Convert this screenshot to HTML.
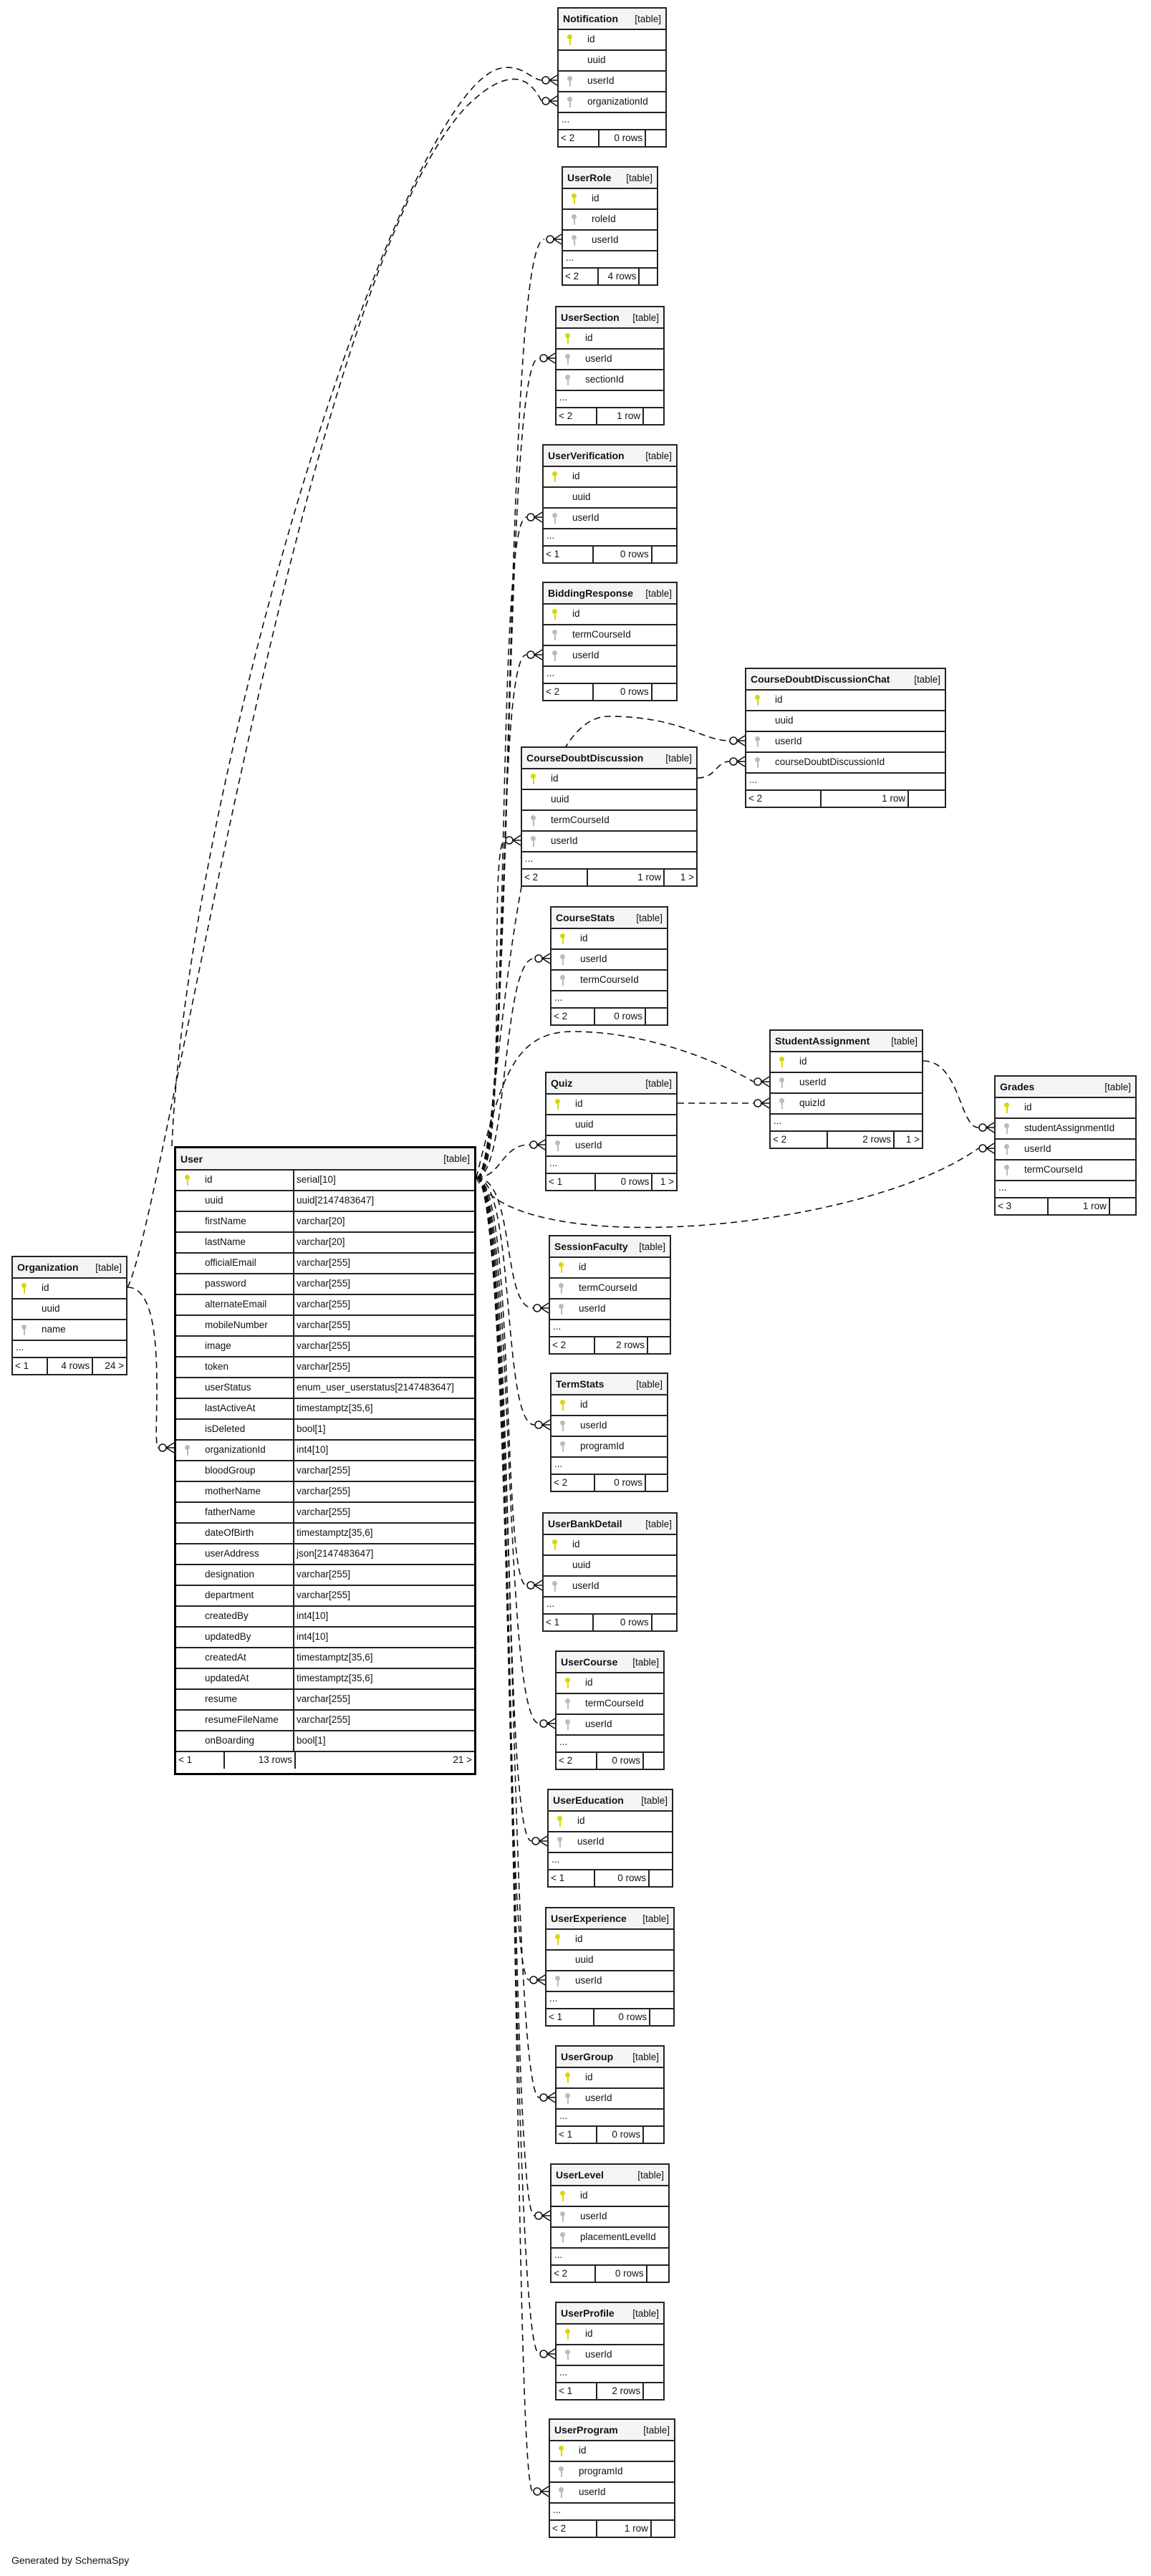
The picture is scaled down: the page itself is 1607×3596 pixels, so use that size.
<!DOCTYPE html>
<html><head><meta charset="utf-8"><style>
body{margin:0;width:1607px;height:3596px;background:#fff;position:relative;font-family:"Liberation Sans",sans-serif;font-size:13.5px;color:#111;overflow:hidden}
.t{position:absolute;border:2px solid #222;box-sizing:border-box;background:#fff;white-space:nowrap}
.h{height:28px;background:#f4f4f4;display:flex;justify-content:space-between;align-items:center;padding:0 6px;}
.h b{font-size:14px}
.r{height:29px;border-top:2px solid #222;box-sizing:border-box;position:relative;line-height:26px;padding-left:40px}
.d{height:24px;border-top:2px solid #222;box-sizing:border-box;line-height:18px;padding-left:4px}
.f{height:24px;border-top:2px solid #222;box-sizing:border-box;display:flex;line-height:21px}
.f span{box-sizing:border-box;padding:0 3px;overflow:hidden}
.f span:nth-child(1){width:38%;border-right:2px solid #222}
.f span:nth-child(2){width:44%;text-align:right;border-right:2px solid #222}
.f span:nth-child(3){width:18%;text-align:right}
.o .f span:nth-child(1){width:31%}.o .f span:nth-child(2){width:40%}.o .f span:nth-child(3){width:29%}
.p::before,.q::before{content:"";position:absolute;left:12px;top:6px;width:7px;height:7px;border-radius:50%}
.p::after,.q::after{content:"";position:absolute;left:15px;top:10px;width:2px;height:11px}
.p::before,.p::after{background:#d8d800}
.q::before,.q::after{background:#bbb}
.u{border:3px solid #000}
.u .r{padding-left:0;display:flex}
.u .r span:first-child{width:165px;padding-left:40px;box-sizing:border-box;border-right:2px solid #222}
.u .r span:last-child{padding-left:3px}
.u .f span:nth-child(1){width:68px}.u .f span:nth-child(2){width:99px}.u .f span:nth-child(3){flex:1;border:0}
svg{position:absolute;left:0;top:0}
</style></head><body>
<svg width="1607" height="3596" fill="none" stroke="#111" stroke-width="1.6">
<g stroke-dasharray="9,6">
<path d="M665 1644 C720 1644 700 334 760 334"/>
<path d="M665 1644 C718 1644 700 500 752 500"/>
<path d="M665 1644 C716 1644 690 722 735 722"/>
<path d="M665 1644 C714 1644 690 914 735 914"/>
<path d="M665 1644 C712 1644 680 1173 705 1173"/>
<path d="M665 1644 C700 1644 700 1000 850 1000 C950 1000 980 1034 1018 1034"/>
<path d="M665 1644 C710 1644 700 1338 746 1338"/>
<path d="M665 1644 C700 1500 720 1440 800 1440 C900 1440 1000 1480 1052 1510"/>
<path d="M665 1644 C700 1644 700 1598 739 1598"/>
<path d="M665 1644 C720 1760 1200 1720 1366 1603"/>
<path d="M665 1644 C720 1644 700 1826 744 1826"/>
<path d="M665 1644 C720 1644 700 1989 746 1989"/>
<path d="M665 1644 C720 1644 700 2213 735 2213"/>
<path d="M665 1644 C720 1644 700 2406 753 2406"/>
<path d="M665 1644 C720 1644 700 2570 742 2570"/>
<path d="M665 1644 C720 1644 700 2764 739 2764"/>
<path d="M665 1644 C720 1644 710 2928 753 2928"/>
<path d="M665 1644 C720 1644 710 3093 746 3093"/>
<path d="M665 1644 C720 1644 710 3286 753 3286"/>
<path d="M665 1644 C725 1644 715 3478 744 3478"/>
<path d="M240 1600 C260 1100 560 120 700 95 C730 90 740 110 756 112"/>
<path d="M178 1797 C230 1700 420 400 650 150 C720 80 745 120 756 141"/>
<path d="M178 1797 C240 1797 210 2021 221 2021"/>
<path d="M974 1086 C1000 1086 1000 1063 1018 1063"/>
<path d="M946 1540 L1052 1540"/>
<path d="M1289 1481 C1340 1481 1340 1574 1366 1574"/>
</g>
<g>
<circle cx="762" cy="112" r="5"/><path d="M767 112 L778 112 M767 112 L778 105 M767 112 L778 119"/>
<circle cx="762" cy="141" r="5"/><path d="M767 141 L778 141 M767 141 L778 134 M767 141 L778 148"/>
<circle cx="768" cy="334" r="5"/><path d="M773 334 L784 334 M773 334 L784 327 M773 334 L784 341"/>
<circle cx="759" cy="500" r="5"/><path d="M764 500 L775 500 M764 500 L775 493 M764 500 L775 507"/>
<circle cx="741" cy="722" r="5"/><path d="M746 722 L757 722 M746 722 L757 715 M746 722 L757 729"/>
<circle cx="741" cy="914" r="5"/><path d="M746 914 L757 914 M746 914 L757 907 M746 914 L757 921"/>
<circle cx="1024" cy="1034" r="5"/><path d="M1029 1034 L1040 1034 M1029 1034 L1040 1027 M1029 1034 L1040 1041"/>
<circle cx="1024" cy="1063" r="5"/><path d="M1029 1063 L1040 1063 M1029 1063 L1040 1056 M1029 1063 L1040 1070"/>
<circle cx="711" cy="1173" r="5"/><path d="M716 1173 L727 1173 M716 1173 L727 1166 M716 1173 L727 1180"/>
<circle cx="752" cy="1338" r="5"/><path d="M757 1338 L768 1338 M757 1338 L768 1331 M757 1338 L768 1345"/>
<circle cx="1058" cy="1510" r="5"/><path d="M1063 1510 L1074 1510 M1063 1510 L1074 1503 M1063 1510 L1074 1517"/>
<circle cx="1058" cy="1540" r="5"/><path d="M1063 1540 L1074 1540 M1063 1540 L1074 1533 M1063 1540 L1074 1547"/>
<circle cx="1372" cy="1574" r="5"/><path d="M1377 1574 L1388 1574 M1377 1574 L1388 1567 M1377 1574 L1388 1581"/>
<circle cx="1372" cy="1603" r="5"/><path d="M1377 1603 L1388 1603 M1377 1603 L1388 1596 M1377 1603 L1388 1610"/>
<circle cx="745" cy="1598" r="5"/><path d="M750 1598 L761 1598 M750 1598 L761 1591 M750 1598 L761 1605"/>
<circle cx="750" cy="1826" r="5"/><path d="M755 1826 L766 1826 M755 1826 L766 1819 M755 1826 L766 1833"/>
<circle cx="752" cy="1989" r="5"/><path d="M757 1989 L768 1989 M757 1989 L768 1982 M757 1989 L768 1996"/>
<circle cx="741" cy="2213" r="5"/><path d="M746 2213 L757 2213 M746 2213 L757 2206 M746 2213 L757 2220"/>
<circle cx="759" cy="2406" r="5"/><path d="M764 2406 L775 2406 M764 2406 L775 2399 M764 2406 L775 2413"/>
<circle cx="748" cy="2570" r="5"/><path d="M753 2570 L764 2570 M753 2570 L764 2563 M753 2570 L764 2577"/>
<circle cx="745" cy="2764" r="5"/><path d="M750 2764 L761 2764 M750 2764 L761 2757 M750 2764 L761 2771"/>
<circle cx="759" cy="2928" r="5"/><path d="M764 2928 L775 2928 M764 2928 L775 2921 M764 2928 L775 2935"/>
<circle cx="752" cy="3093" r="5"/><path d="M757 3093 L768 3093 M757 3093 L768 3086 M757 3093 L768 3100"/>
<circle cx="759" cy="3286" r="5"/><path d="M764 3286 L775 3286 M764 3286 L775 3279 M764 3286 L775 3293"/>
<circle cx="750" cy="3478" r="5"/><path d="M755 3478 L766 3478 M755 3478 L766 3471 M755 3478 L766 3485"/>
<circle cx="227" cy="2021" r="5"/><path d="M232 2021 L243 2021 M232 2021 L243 2014 M232 2021 L243 2028"/>
</g>
</svg>

<div class="t" style="left:778px;top:10px;width:153px"><div class="h"><b>Notification</b><span>[table]</span></div><div class="r p">id</div><div class="r">uuid</div><div class="r q">userId</div><div class="r q">organizationId</div><div class="d">...</div><div class="f"><span>&lt; 2</span><span>0 rows</span><span></span></div></div>

<div class="t" style="left:784px;top:232px;width:135px"><div class="h"><b>UserRole</b><span>[table]</span></div><div class="r p">id</div><div class="r q">roleId</div><div class="r q">userId</div><div class="d">...</div><div class="f"><span>&lt; 2</span><span>4 rows</span><span></span></div></div>

<div class="t" style="left:775px;top:427px;width:153px"><div class="h"><b>UserSection</b><span>[table]</span></div><div class="r p">id</div><div class="r q">userId</div><div class="r q">sectionId</div><div class="d">...</div><div class="f"><span>&lt; 2</span><span>1 row</span><span></span></div></div>

<div class="t" style="left:757px;top:620px;width:189px"><div class="h"><b>UserVerification</b><span>[table]</span></div><div class="r p">id</div><div class="r">uuid</div><div class="r q">userId</div><div class="d">...</div><div class="f"><span>&lt; 1</span><span>0 rows</span><span></span></div></div>

<div class="t" style="left:757px;top:812px;width:189px"><div class="h"><b>BiddingResponse</b><span>[table]</span></div><div class="r p">id</div><div class="r q">termCourseId</div><div class="r q">userId</div><div class="d">...</div><div class="f"><span>&lt; 2</span><span>0 rows</span><span></span></div></div>

<div class="t" style="left:1040px;top:932px;width:281px"><div class="h"><b>CourseDoubtDiscussionChat</b><span>[table]</span></div><div class="r p">id</div><div class="r">uuid</div><div class="r q">userId</div><div class="r q">courseDoubtDiscussionId</div><div class="d">...</div><div class="f"><span>&lt; 2</span><span>1 row</span><span></span></div></div>

<div class="t" style="left:727px;top:1042px;width:247px"><div class="h"><b>CourseDoubtDiscussion</b><span>[table]</span></div><div class="r p">id</div><div class="r">uuid</div><div class="r q">termCourseId</div><div class="r q">userId</div><div class="d">...</div><div class="f"><span>&lt; 2</span><span>1 row</span><span>1 &gt;</span></div></div>

<div class="t" style="left:768px;top:1265px;width:165px"><div class="h"><b>CourseStats</b><span>[table]</span></div><div class="r p">id</div><div class="r q">userId</div><div class="r q">termCourseId</div><div class="d">...</div><div class="f"><span>&lt; 2</span><span>0 rows</span><span></span></div></div>

<div class="t" style="left:1074px;top:1437px;width:215px"><div class="h"><b>StudentAssignment</b><span>[table]</span></div><div class="r p">id</div><div class="r q">userId</div><div class="r q">quizId</div><div class="d">...</div><div class="f"><span>&lt; 2</span><span>2 rows</span><span>1 &gt;</span></div></div>

<div class="t" style="left:1388px;top:1501px;width:199px"><div class="h"><b>Grades</b><span>[table]</span></div><div class="r p">id</div><div class="r q">studentAssignmentId</div><div class="r q">userId</div><div class="r q">termCourseId</div><div class="d">...</div><div class="f"><span>&lt; 3</span><span>1 row</span><span></span></div></div>

<div class="t" style="left:761px;top:1496px;width:185px"><div class="h"><b>Quiz</b><span>[table]</span></div><div class="r p">id</div><div class="r">uuid</div><div class="r q">userId</div><div class="d">...</div><div class="f"><span>&lt; 1</span><span>0 rows</span><span>1 &gt;</span></div></div>

<div class="t" style="left:766px;top:1724px;width:171px"><div class="h"><b>SessionFaculty</b><span>[table]</span></div><div class="r p">id</div><div class="r q">termCourseId</div><div class="r q">userId</div><div class="d">...</div><div class="f"><span>&lt; 2</span><span>2 rows</span><span></span></div></div>

<div class="t" style="left:768px;top:1916px;width:165px"><div class="h"><b>TermStats</b><span>[table]</span></div><div class="r p">id</div><div class="r q">userId</div><div class="r q">programId</div><div class="d">...</div><div class="f"><span>&lt; 2</span><span>0 rows</span><span></span></div></div>

<div class="t" style="left:757px;top:2111px;width:189px"><div class="h"><b>UserBankDetail</b><span>[table]</span></div><div class="r p">id</div><div class="r">uuid</div><div class="r q">userId</div><div class="d">...</div><div class="f"><span>&lt; 1</span><span>0 rows</span><span></span></div></div>

<div class="t" style="left:775px;top:2304px;width:153px"><div class="h"><b>UserCourse</b><span>[table]</span></div><div class="r p">id</div><div class="r q">termCourseId</div><div class="r q">userId</div><div class="d">...</div><div class="f"><span>&lt; 2</span><span>0 rows</span><span></span></div></div>

<div class="t" style="left:764px;top:2497px;width:176px"><div class="h"><b>UserEducation</b><span>[table]</span></div><div class="r p">id</div><div class="r q">userId</div><div class="d">...</div><div class="f"><span>&lt; 1</span><span>0 rows</span><span></span></div></div>

<div class="t" style="left:761px;top:2662px;width:181px"><div class="h"><b>UserExperience</b><span>[table]</span></div><div class="r p">id</div><div class="r">uuid</div><div class="r q">userId</div><div class="d">...</div><div class="f"><span>&lt; 1</span><span>0 rows</span><span></span></div></div>

<div class="t" style="left:775px;top:2855px;width:153px"><div class="h"><b>UserGroup</b><span>[table]</span></div><div class="r p">id</div><div class="r q">userId</div><div class="d">...</div><div class="f"><span>&lt; 1</span><span>0 rows</span><span></span></div></div>

<div class="t" style="left:768px;top:3020px;width:167px"><div class="h"><b>UserLevel</b><span>[table]</span></div><div class="r p">id</div><div class="r q">userId</div><div class="r q">placementLevelId</div><div class="d">...</div><div class="f"><span>&lt; 2</span><span>0 rows</span><span></span></div></div>

<div class="t" style="left:775px;top:3213px;width:153px"><div class="h"><b>UserProfile</b><span>[table]</span></div><div class="r p">id</div><div class="r q">userId</div><div class="d">...</div><div class="f"><span>&lt; 1</span><span>2 rows</span><span></span></div></div>

<div class="t" style="left:766px;top:3376px;width:177px"><div class="h"><b>UserProgram</b><span>[table]</span></div><div class="r p">id</div><div class="r q">programId</div><div class="r q">userId</div><div class="d">...</div><div class="f"><span>&lt; 2</span><span>1 row</span><span></span></div></div>

<div class="t o" style="left:16px;top:1753px;width:162px"><div class="h"><b>Organization</b><span>[table]</span></div><div class="r p">id</div><div class="r">uuid</div><div class="r q">name</div><div class="d">...</div><div class="f"><span>&lt; 1</span><span>4 rows</span><span>24 &gt;</span></div></div>

<div class="t u" style="left:243px;top:1600px;width:422px;height:878px"><div class="h" style="height:29px"><b>User</b><span>[table]</span></div>
<div class="r p"><span>id</span><span>serial[10]</span></div>
<div class="r"><span>uuid</span><span>uuid[2147483647]</span></div>
<div class="r"><span>firstName</span><span>varchar[20]</span></div>
<div class="r"><span>lastName</span><span>varchar[20]</span></div>
<div class="r"><span>officialEmail</span><span>varchar[255]</span></div>
<div class="r"><span>password</span><span>varchar[255]</span></div>
<div class="r"><span>alternateEmail</span><span>varchar[255]</span></div>
<div class="r"><span>mobileNumber</span><span>varchar[255]</span></div>
<div class="r"><span>image</span><span>varchar[255]</span></div>
<div class="r"><span>token</span><span>varchar[255]</span></div>
<div class="r"><span>userStatus</span><span>enum_user_userstatus[2147483647]</span></div>
<div class="r"><span>lastActiveAt</span><span>timestamptz[35,6]</span></div>
<div class="r"><span>isDeleted</span><span>bool[1]</span></div>
<div class="r q"><span>organizationId</span><span>int4[10]</span></div>
<div class="r"><span>bloodGroup</span><span>varchar[255]</span></div>
<div class="r"><span>motherName</span><span>varchar[255]</span></div>
<div class="r"><span>fatherName</span><span>varchar[255]</span></div>
<div class="r"><span>dateOfBirth</span><span>timestamptz[35,6]</span></div>
<div class="r"><span>userAddress</span><span>json[2147483647]</span></div>
<div class="r"><span>designation</span><span>varchar[255]</span></div>
<div class="r"><span>department</span><span>varchar[255]</span></div>
<div class="r"><span>createdBy</span><span>int4[10]</span></div>
<div class="r"><span>updatedBy</span><span>int4[10]</span></div>
<div class="r"><span>createdAt</span><span>timestamptz[35,6]</span></div>
<div class="r"><span>updatedAt</span><span>timestamptz[35,6]</span></div>
<div class="r"><span>resume</span><span>varchar[255]</span></div>
<div class="r"><span>resumeFileName</span><span>varchar[255]</span></div>
<div class="r"><span>onBoarding</span><span>bool[1]</span></div>
<div class="f" style="height:25px"><span>&lt; 1</span><span>13 rows</span><span>21 &gt;</span></div>
</div>

<div style="position:absolute;left:16px;top:3566px;font-size:14px">Generated by SchemaSpy</div>
</body></html>
